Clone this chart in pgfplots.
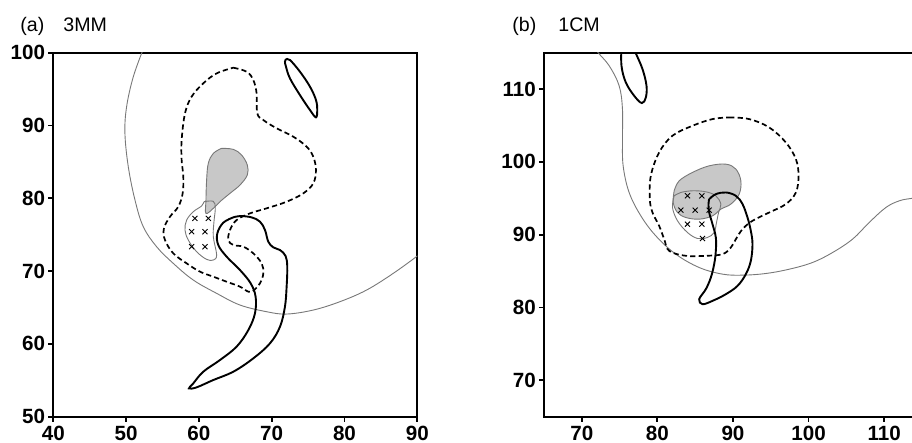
\documentclass[border=0pt]{standalone}
\usepackage{fontspec}
\setmainfont{Liberation Sans}
\usepackage{pgfplots}
\pgfplotsset{compat=1.18}
\definecolor{shade}{RGB}{200,200,200}
\definecolor{thing}{RGB}{120,120,120}
\pgfplotsset{
  mapstyle/.style={
    scale only axis, height=182pt,
    axis line style={line width=1.1pt},
    tick align=outside, major tick length=2.6pt,
    every tick/.style={black, line width=0.9pt},
    xtick pos=bottom, ytick pos=left,
    /pgf/number format/assume math mode=true,
    /pgf/number format/1000 sep={},
    ticklabel style={font=\bfseries\fontsize{10.3}{11}\selectfont},
    xticklabel style={yshift=1.6pt},
    yticklabel style={xshift=2pt},
    clip=true,
  },
  thinl/.style={thing, line width=0.45pt, smooth, tension=0.6},
  dashl/.style={black, line width=0.85pt, dash pattern=on 2.6pt off 1.6pt, smooth, tension=0.6},
  solidl/.style={black, line width=0.95pt, smooth, tension=0.6},
  shadel/.style={fill=shade, draw=thing, line width=0.45pt, smooth, tension=0.6},
  xm/.style={only marks, mark=x, mark size=1.8pt, mark options={black, line width=0.45pt}},
}
\begin{document}
\begin{tikzpicture}
\useasboundingbox (0,0) rectangle (456pt,221.5pt);
\clip (0,0) rectangle (456pt,221.5pt);
\node[anchor=base west, inner sep=0pt, font=\fontsize{9.8}{10}\selectfont] at (10pt,205.6pt) {(a)};
\node[anchor=base west, inner sep=0pt, font=\fontsize{9.8}{10}\selectfont] at (31.5pt,205.6pt) {3MM};
\node[anchor=base west, inner sep=0pt, font=\fontsize{9.8}{10}\selectfont] at (256pt,205.6pt) {(b)};
\node[anchor=base west, inner sep=0pt, font=\fontsize{9.8}{10}\selectfont] at (279pt,205.6pt) {1CM};
% ---------------- panel (a)
\begin{axis}[mapstyle, at={(26.65pt,13.15pt)}, anchor=south west, width=182pt,
  xmin=40, xmax=90, ymin=50, ymax=100,
  xtick={40,50,...,90}, ytick={50,60,...,100}]
% shaded teardrop
\addplot[shadel] coordinates {
(63.12,86.86) (64.73,86.72) (65.87,85.94) (66.65,84.57) (66.65,83.20) (65.64,81.82)
(64.27,80.68) (62.89,79.53) (61.98,78.62) (60.97,77.93) (60.97,79.76) (61.06,82.51)
(61.29,84.80) (61.98,86.17) (63.12,86.86)};
% thin closed outline with crosses
\addplot[thinl] coordinates {
(60.70,79.53) (61.98,79.58) (62.25,78.62) (62.07,76.79) (61.98,74.73) (62.44,72.21)
(61.98,71.52) (61.06,71.61) (59.69,72.66) (58.54,74.27) (58.09,75.64) (58.32,77.01)
(59.23,78.16) (60.37,78.94) (60.70,79.53)};
% thin large arc
\addplot[thinl] coordinates {
(52.36,100.5) (50.99,96.70) (50.07,92.58) (49.84,88.92) (50.30,84.34) (51.22,79.76)
(52.36,76.10) (54.19,73.35) (56.48,71.06) (59.23,68.77) (62.44,66.94) (65.64,65.34)
(69.30,64.42) (72.05,64.10) (75.71,64.65) (79.38,65.80) (83.04,67.40) (86.70,69.69)
(90.0,72.07) (90.5,72.5)};
% dashed loop
\addplot[dashl] coordinates {
(64.73,97.94) (66.56,97.39) (67.47,96.25) (67.93,94.41) (68.02,91.67) (68.85,90.75)
(70.68,89.61) (72.97,88.46) (74.80,87.09) (75.71,85.71) (76.08,83.88) (75.71,82.05)
(74.34,80.68) (72.05,79.53) (69.30,78.62) (67.01,77.93) (65.18,77.01) (64.27,75.64)
(64.04,74.27) (64.73,73.58) (66.10,73.35) (67.47,72.44) (68.62,71.06) (68.85,69.69)
(68.39,68.32) (67.47,67.31) (66.79,67.17) (65.64,67.86) (63.81,68.54) (61.98,69.23)
(60.15,69.92) (58.32,71.06) (56.48,72.44) (55.34,74.27) (55.20,75.87) (56.03,77.47)
(57.17,78.85) (57.77,80.68) (57.86,82.97) (57.63,85.26) (57.63,88.00) (58.09,91.67)
(59.00,93.96) (60.60,95.79) (62.44,97.16) (64.73,97.94)};
% solid hook
\addplot[solidl] coordinates {
(64.73,77.38) (63.35,76.65) (62.53,75.18) (62.66,73.58) (63.81,71.98) (65.64,70.15)
(67.11,68.32) (67.79,66.48) (67.70,64.19) (66.79,61.90) (65.18,59.62) (62.89,57.78)
(60.60,56.18) (59.23,54.58) (58.64,53.89) (59.69,54.03) (61.98,55.04) (64.73,56.18)
(67.47,58.01) (69.76,60.07) (71.14,62.36) (71.82,65.11) (72.05,67.86) (72.14,70.60)
(71.91,72.07) (71.14,72.89) (70.22,73.26) (69.53,74.04) (69.08,75.64) (68.39,76.79)
(67.24,77.38) (65.64,77.56) (64.73,77.38)};
% solid small ellipse
\addplot[solidl] coordinates {
(71.96,99.08) (72.51,98.99) (73.88,97.39) (75.26,95.33) (76.08,93.50) (76.26,92.12)
(76.08,91.12) (75.26,92.12) (73.88,94.18) (72.51,96.47) (71.96,98.08) (71.82,98.76)
(71.96,99.08)};
% crosses
\addplot[xm] coordinates {
(59.46,77.24) (61.29,77.24) (59.00,75.41) (60.83,75.41) (59.00,73.35) (60.83,73.35)};
\end{axis}
% ---------------- panel (b)
\begin{axis}[mapstyle, at={(272pt,13.15pt)}, anchor=south west, width=189pt,
  xmin=65, xmax=115, ymin=65, ymax=115,
  xtick={70,80,...,110}, ytick={70,80,...,110}]
% shaded blob
\addplot[shadel] coordinates {
(82.22,96.03) (82.88,97.40) (84.64,98.55) (86.85,99.46) (89.06,99.69) (90.38,99.01)
(91.04,97.40) (90.82,95.57) (89.72,94.20) (88.39,93.51) (87.29,92.59) (85.53,92.13)
(83.76,92.36) (82.66,93.05) (82.09,94.43) (82.22,96.03)};
% thin small outline
\addplot[thinl] coordinates {
(82.22,95.34) (82.00,93.74) (82.66,91.91) (83.98,90.30) (85.31,89.48) (86.63,89.62)
(87.51,90.30) (87.82,91.68) (88.09,93.05) (88.39,94.20) (87.73,95.34) (86.41,95.89)
(84.64,96.03) (83.10,95.80) (82.22,95.34)};
% thin large line
\addplot[thinl] coordinates {
(71.8,116) (72.07,115.13) (73.62,113.21) (74.94,110.46) (75.38,107.25) (75.38,103.13)
(75.47,99.46) (76.26,95.80) (77.81,92.59) (79.79,89.84) (82.44,87.32) (85.53,85.49)
(88.62,84.58) (91.26,84.44) (94.35,84.67) (97.44,85.26) (100.52,86.18) (103.17,87.55)
(105.82,89.39) (108.02,91.68) (110.23,93.74) (111.99,94.65) (113.58,94.98) (116,95.3)};
% dashed loop
\addplot[dashl] coordinates {
(89.50,106.11) (92.14,105.88) (94.79,104.73) (96.99,102.67) (98.32,100.38) (98.67,98.09)
(98.32,95.80) (96.99,94.20) (94.79,93.05) (92.58,91.91) (91.26,90.76) (90.38,89.39)
(89.72,88.24) (88.62,87.33) (86.41,87.10) (83.76,87.10) (81.56,87.78) (80.90,89.39)
(80.23,91.22) (79.35,93.05) (79.00,94.88) (79.13,98.09) (80.23,101.30) (81.99,103.59)
(84.64,104.96) (87.29,105.88) (89.50,106.11)};
% solid hook
\addplot[solidl] coordinates {
(86.85,94.88) (87.73,95.57) (89.06,95.80) (90.38,95.34) (91.26,94.20) (91.92,92.36)
(92.36,90.53) (92.58,88.70) (92.36,86.41) (91.70,84.58) (90.60,82.97) (89.06,81.83)
(87.29,80.91) (85.97,80.45) (85.53,81.14) (86.41,82.52) (87.07,84.12) (87.51,85.95)
(87.73,87.78) (87.73,89.62) (87.29,91.45) (86.85,93.05) (86.76,94.20) (86.85,94.88)};
% solid small ellipse at top
\addplot[solidl] coordinates {
(75.25,116) (75.25,113.21) (75.82,110.92) (76.93,109.08) (77.94,108.08) (78.47,108.85)
(78.56,110.46) (78.03,112.75) (77.06,115.13) (76.8,116)};
% crosses
\addplot[xm] coordinates {
(83.98,95.34) (85.88,95.34) (83.10,93.37) (85.00,93.37) (86.85,93.37) (83.98,91.45)
(85.88,91.45) (85.97,89.48)};
\end{axis}
\end{tikzpicture}
\end{document}
